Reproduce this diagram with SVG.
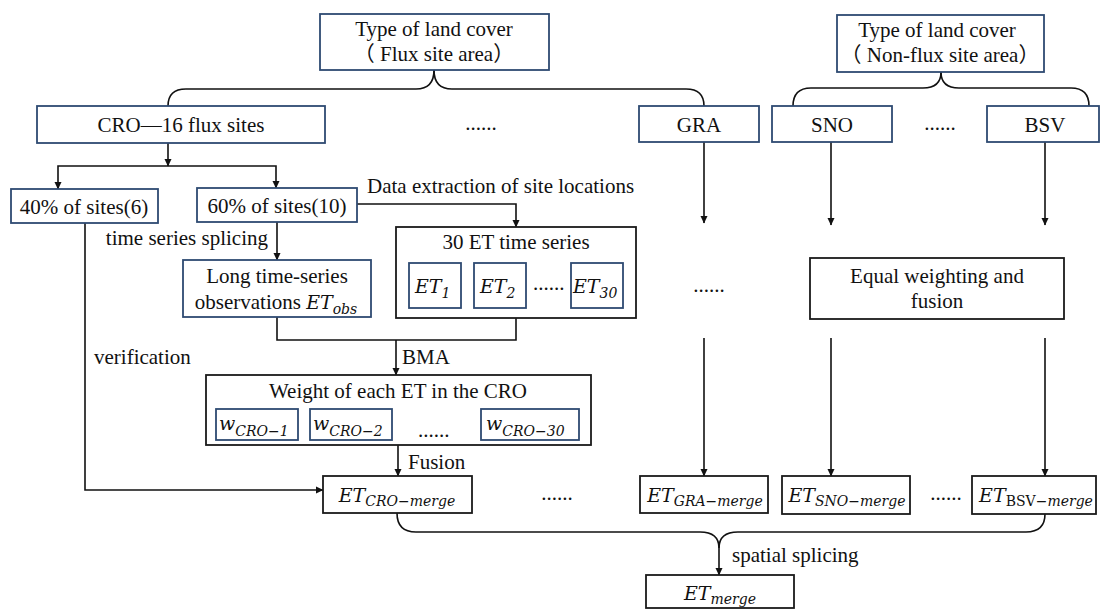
<svg xmlns="http://www.w3.org/2000/svg" width="1100" height="610" viewBox="0 0 1100 610">
<style>
.t{font-family:"Liberation Serif","Noto Sans CJK SC",serif;font-size:21px;fill:#111}
.c{text-anchor:middle}
.m{font-family:"DejaVu Serif",serif;font-style:italic;font-size:19px;fill:#111}
.s{font-size:14px}
.u{font-style:normal}
.nb{fill:#fff;stroke:#2E4A72;stroke-width:1.8}
.bb{fill:#fff;stroke:#1a1a1a;stroke-width:1.8}
.ln{fill:none;stroke:#111;stroke-width:1.6}
.ar{marker-end:url(#ah)}
</style>
<defs>
<marker id="ah" markerUnits="userSpaceOnUse" markerWidth="8" markerHeight="8" refX="7" refY="4" orient="auto">
<path d="M0,0.5 L7.5,4 L0,7.5 z" fill="#111"/>
</marker>
</defs>
<rect width="1100" height="610" fill="#fff"/>

<g id="connectors">
<!-- brace A -->
<path class="ln" d="M434,70 Q434,89 416,89 H186 Q168,89 168,106"/>
<path class="ln" d="M434,70 Q434,89 452,89 H686 Q704,89 704,106"/>
<!-- brace B -->
<path class="ln" d="M941,72 Q941,88 923,88 H811 Q793,88 793,106"/>
<path class="ln" d="M941,72 Q941,88 959,88 H1071 Q1089,88 1089,106"/>
<!-- CRO split -->
<path class="ln ar" d="M168,143 V166"/>
<path class="ln ar" d="M168,166 H58 V189"/>
<path class="ln ar" d="M168,166 H276 V188"/>
<!-- data extraction -->
<path class="ln ar" d="M357,204 H516 V227"/>
<!-- time series splicing -->
<path class="ln ar" d="M277,222 V260"/>
<!-- BMA join -->
<path class="ln" d="M277,317 V340 H516 V318"/>
<path class="ln ar" d="M396,340 V375"/>
<!-- fusion -->
<path class="ln ar" d="M398,445 V476"/>
<!-- verification -->
<path class="ln ar" d="M85,223 V490 H323"/>
<!-- GRA -->
<path class="ln ar" d="M704,142 V223"/>
<path class="ln ar" d="M704,338 V476"/>
<!-- SNO -->
<path class="ln ar" d="M831,142 V225"/>
<path class="ln ar" d="M831,338 V476"/>
<!-- BSV -->
<path class="ln ar" d="M1045,142 V225"/>
<path class="ln ar" d="M1045,338 V476"/>
<!-- bottom brace -->
<path class="ln" d="M397,513 Q397,532 416,532 H700 Q719,532 719,548"/>
<path class="ln" d="M1045,514 Q1045,532 1026,532 H738 Q719,532 719,548"/>
<path class="ln ar" d="M719,548 V575"/>
</g>

<g id="labels">
<text class="t" x="367" y="193">Data extraction of site locations</text>
<text class="t" x="268" y="245" text-anchor="end">time series splicing</text>
<text class="t" x="402" y="364">BMA</text>
<text class="t" x="94" y="364">verification</text>
<text class="t" x="408" y="469">Fusion</text>
<text class="t" x="732" y="562">spatial splicing</text>
<text class="t c" x="481" y="130">......</text>
<text class="t c" x="940" y="130">......</text>
<text class="t c" x="709" y="292">......</text>
<text class="t c" x="557" y="500">......</text>
<text class="t c" x="946" y="500">......</text>
</g>

<g id="node-landcover-flux">
<rect class="nb" x="320" y="14" width="229" height="56"/>
<text class="t c" x="434" y="36">Type of land cover</text>
<text class="t c" x="434" y="61">（ Flux site area）</text>
</g>
<g id="node-landcover-nonflux">
<rect class="nb" x="837" y="15" width="207" height="57"/>
<text class="t c" x="937" y="37">Type of land cover</text>
<text class="t c" x="940" y="62">（ Non-flux site area）</text>
</g>
<g id="node-cro">
<rect class="nb" x="37" y="106" width="288" height="37"/>
<text class="t c" x="181" y="132">CRO—16 flux sites</text>
</g>
<g id="node-gra">
<rect class="nb" x="639" y="106" width="120" height="36"/>
<text class="t c" x="699" y="132">GRA</text>
</g>
<g id="node-sno">
<rect class="nb" x="772" y="106" width="120" height="36"/>
<text class="t c" x="832" y="132">SNO</text>
</g>
<g id="node-bsv">
<rect class="nb" x="987" y="106" width="112" height="36"/>
<text class="t c" x="1045" y="132">BSV</text>
</g>
<g id="node-40">
<rect class="nb" x="11" y="189" width="147" height="34"/>
<text class="t c" x="84" y="214">40% of sites(6)</text>
</g>
<g id="node-60">
<rect class="nb" x="197" y="188" width="160" height="34"/>
<text class="t c" x="277" y="213">60% of sites(10)</text>
</g>
<g id="node-long">
<rect class="nb" x="183" y="260" width="188" height="57"/>
<text class="t c" x="277" y="283">Long time-series</text>
<text class="t c" x="276" y="309">observations <tspan class="m">ET</tspan><tspan class="m s" dy="5">obs</tspan></text>
</g>
<g id="node-30et">
<rect class="bb" x="396" y="227" width="240" height="91"/>
<text class="t c" x="516" y="249">30 ET time series</text>
<rect class="nb" x="409" y="263" width="52" height="45"/>
<text class="m" x="415" y="293">ET<tspan class="s" dy="5">1</tspan></text>
<rect class="nb" x="474" y="263" width="52" height="45"/>
<text class="m" x="480" y="293">ET<tspan class="s" dy="5">2</tspan></text>
<text class="t" x="533" y="290">......</text>
<rect class="nb" x="571" y="263" width="52" height="45"/>
<text class="m" x="573" y="293">ET<tspan class="s" dy="5">30</tspan></text>
</g>
<g id="node-equal">
<rect class="bb" x="810" y="258" width="254" height="61"/>
<text class="t c" x="937" y="283">Equal weighting and</text>
<text class="t c" x="937" y="308">fusion</text>
</g>
<g id="node-weight">
<rect class="bb" x="206" y="375" width="385" height="70"/>
<text class="t c" x="398" y="398">Weight of each ET in the CRO</text>
<rect class="nb" x="216" y="409" width="82" height="31"/>
<text class="m" x="219" y="430">w<tspan class="s" dy="6">CRO−1</tspan></text>
<rect class="nb" x="310" y="409" width="82" height="31"/>
<text class="m" x="313" y="430">w<tspan class="s" dy="6">CRO−2</tspan></text>
<text class="t" x="418" y="437">......</text>
<rect class="nb" x="481" y="409" width="98" height="31"/>
<text class="m" x="486" y="430">w<tspan class="s" dy="6">CRO−30</tspan></text>
</g>
<g id="node-et-cro">
<rect class="bb" x="323" y="476" width="149" height="37"/>
<text class="m c" x="397" y="502">ET<tspan class="s" dy="4">CRO−merge</tspan></text>
</g>
<g id="node-et-gra">
<rect class="bb" x="640" y="476" width="128" height="37"/>
<text class="m c" x="705" y="502">ET<tspan class="s" dy="4">GRA−merge</tspan></text>
</g>
<g id="node-et-sno">
<rect class="bb" x="782" y="476" width="128" height="38"/>
<text class="m c" x="847" y="502">ET<tspan class="s" dy="4">SNO−merge</tspan></text>
</g>
<g id="node-et-bsv">
<rect class="bb" x="972" y="476" width="124" height="38"/>
<text class="m c" x="1036" y="502">ET<tspan class="s u" dy="4">BSV</tspan><tspan class="s">−merge</tspan></text>
</g>
<g id="node-et-merge">
<rect class="bb" x="646" y="575" width="148" height="33"/>
<text class="m c" x="720" y="600">ET<tspan class="s" dy="4">merge</tspan></text>
</g>
</svg>
